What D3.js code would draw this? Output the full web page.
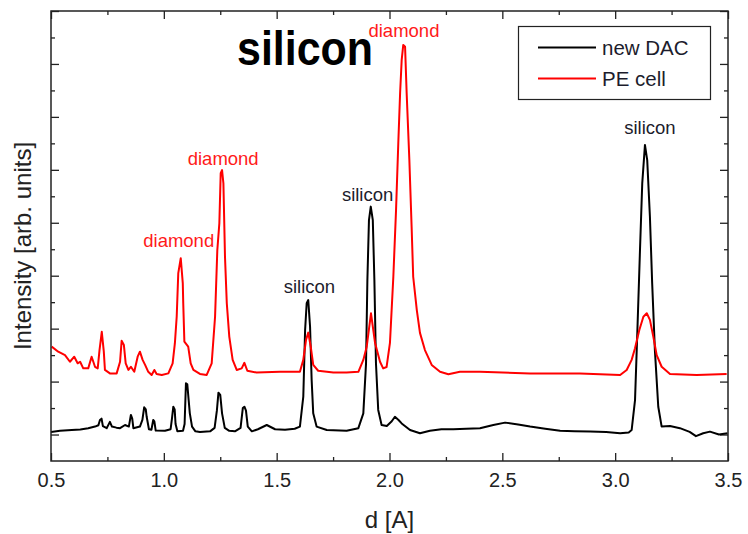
<!DOCTYPE html>
<html>
<head>
<meta charset="utf-8">
<script src="https://cdn.jsdelivr.net/npm/d3@7"></script>
<style>
  body { margin: 0; background: #fff; }
  svg { display: block; font-family: "Liberation Sans", Arial, sans-serif; }
</style>
</head>
<body>
<svg id="chart" width="748" height="534"></svg>
<script>
// d-spacing [A] vs intensity [arb. units]
const newDAC = [
  [0.500, 1.10], [0.540, 1.14], [0.592, 1.17], [0.630, 1.19], [0.665, 1.24], [0.695, 1.30],
  [0.710, 1.35], [0.717, 1.55], [0.724, 1.60], [0.730, 1.32], [0.747, 1.24], [0.761, 1.48],
  [0.770, 1.30], [0.790, 1.26], [0.806, 1.24], [0.828, 1.36], [0.845, 1.30], [0.854, 1.74],
  [0.860, 1.60], [0.865, 1.24], [0.894, 1.30], [0.905, 1.55], [0.913, 2.03], [0.920, 1.95],
  [0.924, 1.67], [0.934, 1.20], [0.945, 1.18], [0.953, 1.55], [0.958, 1.50], [0.964, 1.15],
  [1.005, 1.14], [1.030, 1.20], [1.036, 1.60], [1.042, 2.05], [1.048, 1.95], [1.052, 1.40],
  [1.060, 1.12], [1.085, 1.14], [1.092, 1.40], [1.098, 2.94], [1.104, 2.90], [1.110, 2.30],
  [1.115, 1.81], [1.125, 1.30], [1.140, 1.12], [1.160, 1.10], [1.205, 1.12], [1.225, 1.25],
  [1.235, 1.90], [1.242, 2.58], [1.250, 2.50], [1.258, 1.80], [1.270, 1.25], [1.290, 1.14],
  [1.315, 1.12], [1.340, 1.25], [1.350, 2.00], [1.357, 2.05], [1.364, 1.90], [1.372, 1.30],
  [1.390, 1.12], [1.417, 1.20], [1.456, 1.36], [1.493, 1.20], [1.537, 1.18], [1.580, 1.22],
  [1.603, 1.30], [1.618, 2.43], [1.626, 4.95], [1.633, 5.96], [1.640, 6.08], [1.648, 5.07],
  [1.655, 3.06], [1.662, 1.80], [1.677, 1.30], [1.722, 1.17], [1.810, 1.14], [1.862, 1.24],
  [1.884, 1.80], [1.896, 3.69], [1.902, 6.84], [1.909, 9.10], [1.917, 9.61], [1.926, 9.10],
  [1.933, 6.84], [1.940, 3.69], [1.950, 1.93], [1.965, 1.36], [1.988, 1.32], [2.010, 1.50],
  [2.024, 1.67], [2.040, 1.55], [2.054, 1.42], [2.091, 1.17], [2.135, 1.05], [2.179, 1.14],
  [2.230, 1.20], [2.283, 1.20], [2.340, 1.22], [2.401, 1.24], [2.460, 1.36], [2.512, 1.45],
  [2.570, 1.38], [2.623, 1.30], [2.690, 1.22], [2.756, 1.14], [2.820, 1.12], [2.889, 1.11],
  [2.960, 1.10], [3.022, 1.05], [3.060, 1.08], [3.073, 1.17], [3.088, 2.30], [3.098, 4.82],
  [3.110, 7.97], [3.120, 10.49], [3.132, 11.94], [3.142, 11.37], [3.154, 9.23], [3.164, 6.71],
  [3.176, 4.19], [3.191, 2.05], [3.206, 1.30], [3.243, 1.32], [3.287, 1.24], [3.330, 1.10],
  [3.358, 0.94], [3.390, 1.05], [3.420, 1.11], [3.460, 1.00], [3.498, 1.05]
];

const peCell = [
  [0.503, 4.32], [0.532, 4.13], [0.562, 4.00], [0.584, 3.75], [0.603, 3.94], [0.618, 3.69],
  [0.629, 3.75], [0.643, 3.50], [0.665, 3.50], [0.680, 3.94], [0.695, 3.56], [0.707, 3.50],
  [0.715, 4.19], [0.725, 4.88], [0.734, 4.13], [0.739, 3.44], [0.761, 3.31], [0.791, 3.31],
  [0.806, 3.75], [0.813, 4.54], [0.823, 4.38], [0.831, 3.69], [0.843, 3.44], [0.854, 3.56],
  [0.869, 3.37], [0.884, 3.94], [0.894, 4.13], [0.906, 3.82], [0.917, 3.63], [0.931, 3.37],
  [0.946, 3.25], [0.958, 3.44], [0.968, 3.29], [0.991, 3.25], [1.020, 3.31], [1.039, 3.69],
  [1.049, 4.45], [1.057, 5.45], [1.064, 7.10], [1.075, 7.66], [1.084, 6.71], [1.086, 5.96],
  [1.091, 4.51], [1.108, 4.32], [1.119, 3.69], [1.131, 3.44], [1.160, 3.29], [1.190, 3.25],
  [1.212, 3.69], [1.227, 5.45], [1.237, 7.97], [1.246, 8.98], [1.252, 10.87], [1.258, 10.99],
  [1.264, 10.49], [1.271, 7.72], [1.279, 5.96], [1.290, 4.70], [1.305, 3.82], [1.323, 3.44],
  [1.345, 3.50], [1.357, 3.71], [1.370, 3.41], [1.411, 3.34], [1.515, 3.37], [1.603, 3.37],
  [1.618, 3.82], [1.630, 4.57], [1.640, 4.85], [1.651, 4.32], [1.662, 3.63], [1.684, 3.41],
  [1.751, 3.34], [1.810, 3.34], [1.862, 3.37], [1.884, 3.82], [1.899, 4.32], [1.918, 5.58],
  [1.936, 4.46], [1.958, 3.75], [1.972, 3.50], [1.987, 3.55], [2.002, 4.46], [2.017, 6.96],
  [2.029, 9.48], [2.039, 12.01], [2.047, 13.90], [2.054, 15.15], [2.061, 15.72], [2.069, 15.65],
  [2.076, 13.90], [2.088, 11.37], [2.098, 8.85], [2.105, 6.96], [2.121, 5.70], [2.135, 4.84],
  [2.157, 4.19], [2.187, 3.63], [2.224, 3.37], [2.261, 3.28], [2.312, 3.37], [2.401, 3.37],
  [2.623, 3.31], [2.844, 3.31], [3.022, 3.25], [3.051, 3.44], [3.073, 3.82], [3.088, 4.26],
  [3.107, 4.95], [3.125, 5.45], [3.140, 5.58], [3.154, 5.33], [3.169, 4.70], [3.184, 4.00],
  [3.206, 3.56], [3.243, 3.29], [3.361, 3.25], [3.494, 3.29]
];

const seriesNames = ["new DAC", "PE cell"];
const seriesColors = ["#000000", "#ff0000"];

// peak annotations: text, d position, intensity of the text baseline
const peakLabels = [
  { text: "diamond", d: 1.066, y: 8.08, kind: "diamond" },
  { text: "diamond", d: 1.263, y: 11.18, kind: "diamond" },
  { text: "diamond", d: 2.064, y: 16.01, kind: "diamond" },
  { text: "silicon", d: 1.645, y: 6.34, kind: "silicon" },
  { text: "silicon", d: 1.903, y: 9.83, kind: "silicon" },
  { text: "silicon", d: 3.154, y: 12.34, kind: "silicon" }
];

const xMajor = [0.5, 1.0, 1.5, 2.0, 2.5, 3.0, 3.5];
const xMinor = [0.75, 1.25, 1.75, 2.25, 2.75, 3.25];
const yMajor = [1, 3, 5, 7, 9, 11, 13, 15, 17];
const yMinor = [2, 4, 6, 8, 10, 12, 14, 16];

const svg = d3.select("#chart");
const plotLeft = 51, plotRight = 728, plotTop = 11, plotBottom = 461;

const x = d3.scaleLinear().domain([0.5, 3.5]).range([plotLeft, plotRight]);
const y = d3.scaleLinear().domain([0, 17]).range([plotBottom, plotTop]);

// ticks on all four sides, pointing inward
function drawTicks(axisFn, scale, values, size, transform, labels) {
  const g = svg.append("g")
    .attr("transform", transform)
    .call(axisFn(scale).tickValues(values).tickSize(-size).tickSizeOuter(0)
      .tickPadding(11.5)
      .tickFormat(labels ? d3.format(".1f") : ""));
  g.select(".domain").remove();
  g.selectAll("line").attr("stroke", "#222").attr("stroke-width", 1.3);
  g.selectAll("text").attr("font-size", 20).attr("fill", "#222")
    .attr("font-family", "'Liberation Sans', Arial, sans-serif");
  return g;
}

drawTicks(d3.axisBottom, x, xMajor, 8, `translate(0,${plotBottom})`, true);
drawTicks(d3.axisBottom, x, xMinor, 4, `translate(0,${plotBottom})`, false);
drawTicks(d3.axisTop, x, xMajor, 8, `translate(0,${plotTop})`, false);
drawTicks(d3.axisTop, x, xMinor, 4, `translate(0,${plotTop})`, false);
drawTicks(d3.axisLeft, y, yMajor, 8, `translate(${plotLeft},0)`, false);
drawTicks(d3.axisLeft, y, yMinor, 4, `translate(${plotLeft},0)`, false);
drawTicks(d3.axisRight, y, yMajor, 8, `translate(${plotRight},0)`, false);
drawTicks(d3.axisRight, y, yMinor, 4, `translate(${plotRight},0)`, false);

// curves
const line = d3.line().x(d => x(d[0])).y(d => y(d[1]));
svg.append("defs").append("clipPath").attr("id", "plotClip")
  .append("rect").attr("x", plotLeft).attr("y", plotTop)
  .attr("width", plotRight - plotLeft).attr("height", plotBottom - plotTop);

const plot = svg.append("g").attr("clip-path", "url(#plotClip)");
[newDAC, peCell].forEach((data, i) => {
  plot.append("path")
    .datum(data)
    .attr("fill", "none")
    .attr("stroke", seriesColors[i])
    .attr("stroke-width", 2)
    .attr("stroke-linejoin", "round")
    .attr("d", line);
});

// frame
svg.append("rect")
  .attr("x", plotLeft).attr("y", plotTop)
  .attr("width", plotRight - plotLeft).attr("height", plotBottom - plotTop)
  .attr("fill", "none").attr("stroke", "#222").attr("stroke-width", 1.5);

// peak labels
svg.append("g").selectAll("text")
  .data(peakLabels)
  .join("text")
  .attr("x", d => x(d.d))
  .attr("y", d => y(d.y))
  .attr("text-anchor", "middle")
  .attr("font-size", 18.5)
  .attr("fill", d => d.kind === "diamond" ? "#ff1a1a" : "#1c1c2c")
  .text(d => d.text);

// big title
svg.append("text")
  .attr("x", 237).attr("y", 65)
  .attr("font-size", 48).attr("font-weight", "bold")
  .attr("textLength", 136).attr("lengthAdjust", "spacingAndGlyphs")
  .attr("fill", "#000")
  .text("silicon");

// legend
const legend = svg.append("g");
legend.append("rect")
  .attr("x", 518.5).attr("y", 26.5).attr("width", 192).attr("height", 73)
  .attr("fill", "#fff").attr("stroke", "#222").attr("stroke-width", 1.2);
seriesNames.forEach((name, i) => {
  const ly = 47.5 + i * 31;
  legend.append("line")
    .attr("x1", 538).attr("x2", 596).attr("y1", ly).attr("y2", ly)
    .attr("stroke", seriesColors[i]).attr("stroke-width", 2);
  legend.append("text")
    .attr("x", 602).attr("y", ly + 7.5)
    .attr("font-size", 20.5).attr("fill", "#1c1c2c")
    .text(name);
});

// axis titles
svg.append("text")
  .attr("x", (plotLeft + plotRight) / 2).attr("y", 528)
  .attr("text-anchor", "middle").attr("font-size", 24).attr("fill", "#222")
  .text("d [A]");

svg.append("text")
  .attr("transform", "translate(31,246) rotate(-90)")
  .attr("text-anchor", "middle").attr("font-size", 24).attr("fill", "#222")
  .text("Intensity [arb. units]");
</script>
</body>
</html>
